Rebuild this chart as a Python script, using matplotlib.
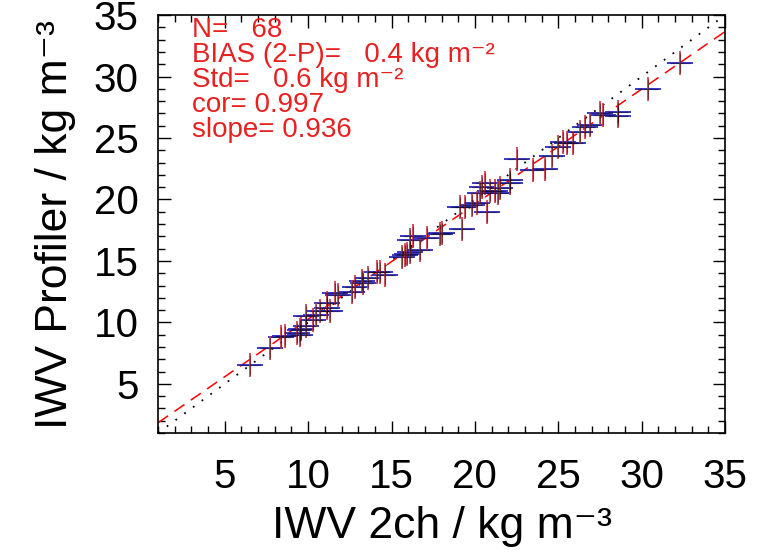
import numpy as np
import matplotlib
matplotlib.use('Agg')
import matplotlib.pyplot as plt
from matplotlib.ticker import MultipleLocator

plt.rcParams['font.family'] = ['Liberation Sans', 'DejaVu Sans']

# IWV from 2-channel radiometer (x) and profiler (y), kg m-3
iwv_2ch = [6.5, 7.7, 8.4, 8.6, 9.35, 9.5, 9.6, 9.9, 9.9, 9.5,
           10.7, 11.1, 11.1, 11.3, 10.5, 11.8, 11.6, 12.8, 13.2, 13.6,
           13.3, 14.1, 14.3, 14.6, 15.8, 15.9, 16.1, 16.1, 16.3, 16.7,
           17.1, 17.9, 18.0, 19.2, 19.1, 19.4, 19.8, 20.3, 20.4, 20.6,
           20.7, 20.9, 21.2, 21.4, 21.5, 22.1, 22.1, 22.5, 23.5, 24.2,
           24.6, 25.3, 25.5, 25.9, 26.3, 26.6, 26.9, 27.5, 27.7, 28.6,
           28.6, 30.4, 32.3, 12.6, 10.3, 15.6, 20.1, 25.0]
iwv_prof = [6.5, 7.9, 8.8, 8.9, 9.1, 9.4, 9.5, 9.7, 10.5, 9.0,
            10.9, 11.2, 11.6, 10.9, 10.6, 12.2, 12.4, 12.9, 13.4, 13.6,
            13.2, 14.1, 14.1, 13.85, 15.5, 15.6, 15.75, 16.7, 17.0, 15.9,
            16.85, 17.2, 17.3, 17.6, 19.4, 19.4, 19.55, 20.5, 21.0, 21.3,
            19.0, 20.65, 20.65, 20.5, 20.9, 21.3, 21.6, 23.3, 22.4, 22.45,
            23.5, 24.7, 24.6, 24.6, 25.5, 25.9, 26.05, 27.0, 26.9, 27.1,
            26.8, 29.0, 31.1, 12.5, 10.2, 15.3, 19.7, 24.3]

# statistics printed on the plot
n_obs = 68
bias = 0.4
std = 0.6
cor = 0.997
slope = 0.936
intercept = 0.9

ax_min, ax_max = 1, 35

fig = plt.figure(figsize=(7.6, 5.52), dpi=100)
ax = fig.add_axes([0.208, 0.2156, 0.746, 0.757])

x = np.asarray(iwv_2ch)
y = np.asarray(iwv_prof)

# 1:1 line and regression line
xl = np.array([ax_min, ax_max])
ax.plot(xl, xl, color='black', linestyle=(0, (1, 5)), linewidth=1.3)
ax.plot(xl, slope * xl + intercept, color='red', linestyle=(0, (8, 5)), linewidth=1.1)

# crosses: blue horizontal, red/black vertical
ax.plot(x, y, linestyle='none', marker='_', color='#2a2ac8', markersize=19, markeredgewidth=1.3)
ax.plot(x, y, linestyle='none', marker='|', color='#d03848', markersize=17, markeredgewidth=1.2)
ax.plot(x, y, linestyle='none', marker='+', color='black', markersize=14, markeredgewidth=0.9, alpha=0.45)

ax.set_xlim(ax_min, ax_max)
ax.set_ylim(ax_min, ax_max)
ax.xaxis.set_major_locator(MultipleLocator(5))
ax.yaxis.set_major_locator(MultipleLocator(5))
ax.xaxis.set_minor_locator(MultipleLocator(1))
ax.yaxis.set_minor_locator(MultipleLocator(1))
ax.tick_params(which='both', direction='in', top=True, right=True, labelsize=29, width=1.0)
ax.tick_params(which='major', length=9)
ax.tick_params(which='minor', length=5)
ax.tick_params(axis='x', pad=18)
ax.tick_params(axis='y', pad=14)
for s in ax.spines.values():
    s.set_linewidth(1.2)

ax.set_xlabel('IWV 2ch / kg m\u207b\u00b3', fontsize=32, labelpad=7)
ax.set_ylabel('IWV Profiler / kg m\u207b\u00b3', fontsize=32, labelpad=13)

# statistics text
sup2 = '\u207b\u00b2'
lines = ['N=   %d' % n_obs,
         'BIAS (2-P)=   %.1f kg m%s' % (bias, sup2),
         'Std=   %.1f kg m%s' % (std, sup2),
         'cor= %.3f' % cor,
         'slope= %.3f' % slope]
for i, t in enumerate(lines):
    ax.text(0.06, 0.947 - i * 0.0598, t, transform=ax.transAxes, color='#e82020',
            fontsize=20, va='baseline', ha='left')

fig.savefig('out.png', dpi=100)
